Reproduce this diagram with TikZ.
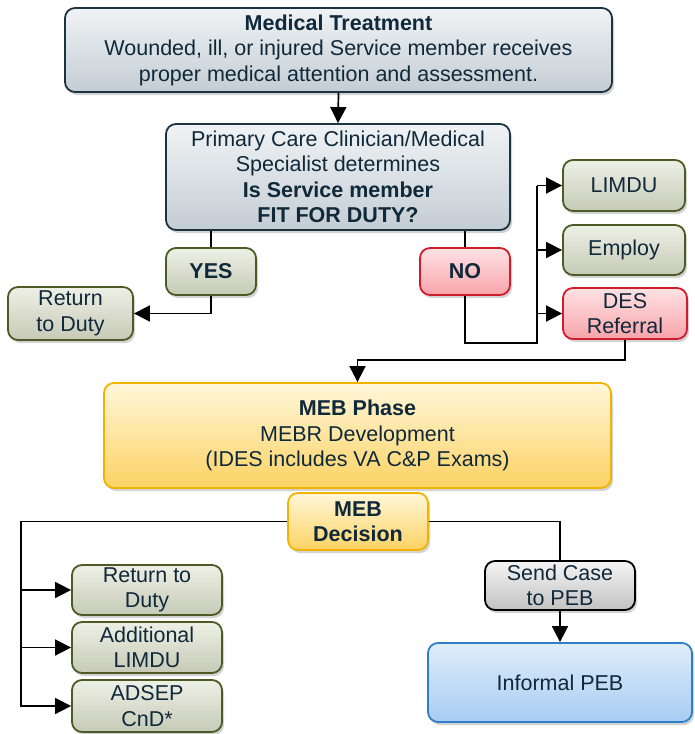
\documentclass[tikz,border=0pt]{standalone}
\usepackage{fontspec}
\setmainfont{Liberation Sans}
\usetikzlibrary{shadows,arrows.meta}

\definecolor{txtcol}{HTML}{10293A}
\definecolor{slateline}{HTML}{1C3442}
\definecolor{slatetop}{HTML}{F0F3F5}
\definecolor{slatebot}{HTML}{C4CDD4}
\definecolor{oliveline}{HTML}{4E5A26}
\definecolor{olivetop}{HTML}{EEF0E6}
\definecolor{olivebot}{HTML}{C6CAB6}
\definecolor{redline}{HTML}{D01C2C}
\definecolor{redtop}{HTML}{FFE2E4}
\definecolor{redbot}{HTML}{F7A4AA}
\definecolor{goldline}{HTML}{F0B400}
\definecolor{goldtop}{HTML}{FFF7DA}
\definecolor{goldbot}{HTML}{FCD263}
\definecolor{greytop}{HTML}{F4F4F4}
\definecolor{greybot}{HTML}{C2C2C2}
\definecolor{blueline}{HTML}{2F7FC8}
\definecolor{bluetop}{HTML}{E0EDFB}
\definecolor{bluebot}{HTML}{A8CCF2}

\begin{document}
\begin{tikzpicture}[x=1pt, y=-1pt, >={Triangle[length=16pt,width=16pt]}]

\tikzset{mybox/.style={rounded corners=10pt, line width=1.8pt, align=center, inner sep=0pt,
    text=txtcol, font=\fontsize{21.5}{25.5}\selectfont,
    drop shadow={opacity=0.35, shadow xshift=2pt, shadow yshift=-3pt}}}
\tikzset{slatebox/.style={mybox, draw=slateline, top color=slatetop, bottom color=slatebot}}
\tikzset{olivebox/.style={mybox, draw=oliveline, top color=olivetop, bottom color=olivebot}}
\tikzset{redbox/.style={mybox, draw=redline, top color=redtop, bottom color=redbot}}
\tikzset{goldbox/.style={mybox, draw=goldline, top color=goldtop, bottom color=goldbot}}
\tikzset{greybox/.style={mybox, draw=black, top color=greytop, bottom color=greybot}}
\tikzset{bluebox/.style={mybox, draw=blueline, top color=bluetop, bottom color=bluebot}}
\tikzset{myline/.style={line width=1.7pt, draw=black}}
\tikzset{myarrow/.style={myline, ->}}

\useasboundingbox (0,0) rectangle (694,734);

% top part
\node[slatebox, minimum width=547pt, minimum height=84pt] (medtx) at (338.5,50)
    {\textbf{Medical Treatment}\\Wounded, ill, or injured Service member receives\\proper medical attention and assessment.};
\node[slatebox, minimum width=344pt, minimum height=106pt] (pcc) at (338,177)
    {Primary Care Clinician/Medical\\Specialist determines\\\textbf{Is Service member}\\\textbf{FIT FOR DUTY?}};
\node[olivebox, minimum width=90pt, minimum height=47pt] (yes) at (211,271.5) {\textbf{YES}};
\node[redbox, minimum width=90pt, minimum height=47pt] (no) at (465,271.5) {\textbf{NO}};
\node[olivebox, minimum width=125pt, minimum height=53pt] (rtdone) at (70.5,313.5) {Return\\to Duty};
\node[olivebox, minimum width=122pt, minimum height=51pt] (limdu) at (624,185.5) {LIMDU};
\node[olivebox, minimum width=122pt, minimum height=50pt] (employ) at (624,250) {Employ};
\node[redbox, minimum width=124pt, minimum height=51pt] (desref) at (625,313.5) {DES\\Referral};

% MEB part
\node[goldbox, minimum width=507pt, minimum height=105pt] (mebp) at (357.5,435.5)
    {\textbf{MEB Phase}\\MEBR Development\\(IDES includes VA C\&P Exams)};
\node[goldbox, minimum width=140pt, minimum height=57pt] (mebd) at (358,521.5) {\textbf{MEB}\\\textbf{Decision}};
\node[olivebox, minimum width=150pt, minimum height=50pt] (rtdtwo) at (147,590) {Return to\\Duty};
\node[olivebox, minimum width=150pt, minimum height=51pt] (addl) at (147,647.5) {Additional\\LIMDU};
\node[olivebox, minimum width=150pt, minimum height=52pt] (adsep) at (147,706) {ADSEP\\CnD*};
\node[greybox, minimum width=150pt, minimum height=49pt] (send) at (560,585.5) {Send Case\\to PEB};
\node[bluebox, minimum width=264pt, minimum height=79pt] (ipeb) at (560,682.5) {Informal PEB};

\coordinate (nobus) at (537,343);
\coordinate (desbus) at (625,360);
\coordinate (lbus) at (21,706);

% connectors
\draw[myarrow] (medtx.south) -- (pcc.north);
\draw[myline] (yes.north) -- (yes.north |- pcc.south);
\draw[myline] (no.north) -- (no.north |- pcc.south);
\draw[myarrow] (yes.south) |- (rtdone.east);
\draw[myline] (no.south) |- (nobus) -- (nobus |- limdu.west);
\draw[myarrow] (nobus |- limdu.west) -- (limdu.west);
\draw[myarrow] (nobus |- employ.west) -- (employ.west);
\draw[myarrow] (nobus |- desref.west) -- (desref.west);
\draw[myarrow] (desref.south) -- (desbus) -| (mebp.north);
\draw[myarrow] (mebd.west) -| (lbus) -- (adsep.west);
\draw[myarrow] (lbus |- rtdtwo.west) -- (rtdtwo.west);
\draw[myarrow] (lbus |- addl.west) -- (addl.west);
\draw[myline] (mebd.east) -| (send.north);
\draw[myarrow] (send.south) -- (ipeb.north);

\end{tikzpicture}
\end{document}
